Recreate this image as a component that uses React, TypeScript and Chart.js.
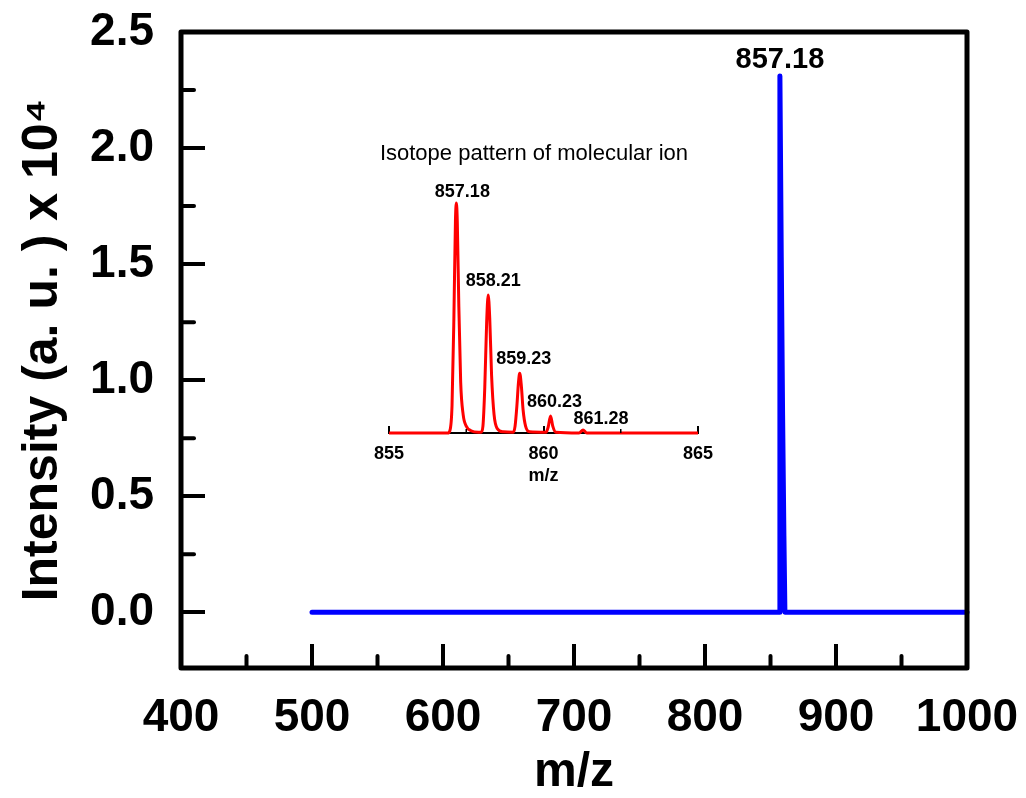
import React, { useEffect, useRef } from 'react';
import { Chart, registerables } from 'chart.js';

Chart.register(...registerables);

// ---------- Main spectrum data ----------
const mainMz = [500, 856.9, 857.18, 858.21, 859.23, 860.23, 861.0, 1000];
const mainIntensity = [0, 0, 2.31, 1.53, 0.85, 0.33, 0, 0];
const mainPeakMz = 857.18;
const mainPeakLabel = '857.18';
const mainXTicks = [400, 500, 600, 700, 800, 900, 1000];
const mainXMinor = [450, 550, 650, 750, 850, 950];
const mainYTicks = [0, 0.5, 1.0, 1.5, 2.0, 2.5];
const mainYMinor = [0.25, 0.75, 1.25, 1.75, 2.25];

// ---------- Inset (isotope pattern) data ----------
const insetMz = [
  855.0, 856.9, 856.97, 857.04, 857.1, 857.15, 857.18, 857.21, 857.26, 857.32, 857.4, 857.5, 857.65, 857.9,
  857.98, 858.04, 858.1, 858.16, 858.21, 858.26, 858.32, 858.4, 858.5, 858.7,
  859.02, 859.08, 859.14, 859.19, 859.23, 859.28, 859.34, 859.42, 859.55,
  860.08, 860.15, 860.23, 860.3, 860.4,
  861.15, 861.28, 861.4, 865.0,
];
const insetIntensity = [
  0, 0, 1, 12, 50, 92, 100, 92, 55, 22, 8, 3, 1, 0.3,
  0.3, 3, 20, 48, 60, 50, 25, 8, 2, 0.5,
  0.3, 3, 12, 22, 26, 21, 10, 3, 0.5,
  0.3, 2.5, 7.4, 3, 0.3,
  0, 1.3, 0, 0,
];
const insetPeakMz = [857.18, 858.21, 859.23, 860.23, 861.28];
const insetPeakLabels = ['857.18', '858.21', '859.23', '860.23', '861.28'];
const insetXTicks = [855, 860, 865];
const insetXMinor = [857.5, 862.5];
const insetTitle = 'Isotope pattern of molecular ion';

// style constants
const FONT = "'Liberation Sans', Arial, Helvetica, sans-serif";
const insetLabelDx = [6, 5, 4, 4, 18];

export default function App() {
  const mainRef = useRef<HTMLCanvasElement | null>(null);
  const insetRef = useRef<HTMLCanvasElement | null>(null);

  useEffect(() => {
    const mainFrame = {
      id: 'mainFrame',
      afterDraw(chart: any) {
        const ctx = chart.ctx;
        const { left, right, top, bottom } = chart.chartArea;
        const xs = chart.scales.x;
        const ys = chart.scales.y;
        ctx.save();
        ctx.strokeStyle = '#000';
        ctx.lineCap = 'round';
        ctx.lineWidth = 4;
        // minor ticks
        mainXMinor.forEach((v) => {
          const px = xs.getPixelForValue(v);
          ctx.beginPath();
          ctx.moveTo(px, bottom);
          ctx.lineTo(px, bottom - 12);
          ctx.stroke();
        });
        mainYMinor.forEach((v) => {
          const py = ys.getPixelForValue(v);
          ctx.beginPath();
          ctx.moveTo(left, py);
          ctx.lineTo(left + 13, py);
          ctx.stroke();
        });
        // frame
        ctx.lineWidth = 5;
        ctx.lineJoin = 'round';
        ctx.strokeRect(left, top, right - left, bottom - top);
        // peak label
        const idx = mainMz.indexOf(mainPeakMz);
        const px = xs.getPixelForValue(mainPeakMz);
        const py = ys.getPixelForValue(mainIntensity[idx]);
        ctx.fillStyle = '#000';
        ctx.font = `bold 29px ${FONT}`;
        ctx.textAlign = 'center';
        ctx.textBaseline = 'alphabetic';
        ctx.fillText(mainPeakLabel, px, py - 8.5);
        ctx.restore();
      },
    };

    const main = new Chart(mainRef.current as HTMLCanvasElement, {
      type: 'line',
      data: {
        datasets: [
          {
            data: mainMz.map((x, i) => ({ x, y: mainIntensity[i] })),
            borderColor: '#0000FF',
            borderWidth: 5,
            pointRadius: 0,
            borderJoinStyle: 'round',
            borderCapStyle: 'round',
            tension: 0,
            clip: false,
          } as any,
        ],
      },
      options: {
        responsive: false,
        animation: false,
        layout: { autoPadding: false, padding: { top: 32, right: 59, left: 0, bottom: 0 } },
        plugins: { legend: { display: false }, tooltip: { enabled: false } },
        scales: {
          x: {
            type: 'linear',
            min: 400,
            max: 1000,
            afterBuildTicks: (s: any) => {
              s.ticks = mainXTicks.map((v) => ({ value: v }));
            },
            afterFit: (s: any) => {
              s.height = 130;
              s.paddingLeft = 0;
              s.paddingRight = 0;
            },
            ticks: {
              autoSkip: false,
              maxRotation: 0,
              color: '#000',
              padding: 47,
              font: { family: FONT, size: 46, weight: 'bold', lineHeight: 1.2 },
              callback: (v: any) => String(v),
            },
            grid: { drawOnChartArea: false, drawTicks: true, tickLength: -24, lineWidth: 4, color: '#000' },
            border: { display: false },
            title: {
              display: true,
              text: 'm/z',
              color: '#000',
              font: { family: FONT, size: 48, weight: 'bold', lineHeight: 1 },
              padding: { top: 0, bottom: 1 },
            },
          },
          y: {
            type: 'linear',
            min: -0.24,
            max: 2.5,
            afterBuildTicks: (s: any) => {
              s.ticks = mainYTicks.map((v) => ({ value: v }));
            },
            afterFit: (s: any) => {
              s.width = 181;
              s.paddingTop = 0;
              s.paddingBottom = 0;
            },
            ticks: {
              autoSkip: false,
              color: '#000',
              padding: 51,
              font: { family: FONT, size: 46, weight: 'bold', lineHeight: 1.2 },
              callback: (v: any) => Number(v).toFixed(1),
            },
            grid: { drawOnChartArea: false, drawTicks: true, tickLength: -24, lineWidth: 4, color: '#000' },
            border: { display: false },
            title: {
              display: true,
              text: 'Intensity (a. u. ) x 10⁴',
              color: '#000',
              font: { family: FONT, size: 50, weight: 'bold', lineHeight: 1 },
              padding: { top: 18, bottom: 0 },
            },
          },
        },
      } as any,
      plugins: [mainFrame],
    });

    const insetDeco = {
      id: 'insetDeco',
      afterDraw(chart: any) {
        const ctx = chart.ctx;
        const { left, right, bottom } = chart.chartArea;
        const xs = chart.scales.x;
        const ys = chart.scales.y;
        ctx.save();
        ctx.strokeStyle = '#000';
        ctx.lineWidth = 1.5;
        insetXMinor.forEach((v) => {
          const px = xs.getPixelForValue(v);
          ctx.beginPath();
          ctx.moveTo(px, bottom);
          ctx.lineTo(px, bottom - 4);
          ctx.stroke();
        });
        ctx.fillStyle = '#000';
        ctx.textAlign = 'center';
        ctx.textBaseline = 'middle';
        ctx.font = `22px ${FONT}`;
        ctx.fillText(insetTitle, (left + right) / 2 - 9.5, 24);
        ctx.font = `bold 18px ${FONT}`;
        insetPeakMz.forEach((mz, i) => {
          const j = insetMz.indexOf(mz);
          const px = xs.getPixelForValue(mz);
          const py = ys.getPixelForValue(insetIntensity[j]);
          ctx.fillText(insetPeakLabels[i], px + insetLabelDx[i], py - (i === 0 || i === 4 ? 11 : 14));
        });
        ctx.restore();
      },
    };

    const inset = new Chart(insetRef.current as HTMLCanvasElement, {
      type: 'line',
      data: {
        datasets: [
          {
            data: insetMz.map((x, i) => ({ x, y: insetIntensity[i] })),
            borderColor: '#FF0000',
            borderWidth: 3,
            pointRadius: 0,
            cubicInterpolationMode: 'monotone',
            clip: false,
          } as any,
        ],
      },
      options: {
        responsive: false,
        animation: false,
        layout: { autoPadding: false, padding: { top: 50, right: 32, left: 29, bottom: 0 } },
        plugins: { legend: { display: false }, tooltip: { enabled: false } },
        scales: {
          x: {
            type: 'linear',
            min: 855,
            max: 865,
            afterBuildTicks: (s: any) => {
              s.ticks = insetXTicks.map((v) => ({ value: v }));
            },
            afterFit: (s: any) => {
              s.height = 67;
              s.paddingLeft = 0;
              s.paddingRight = 0;
            },
            ticks: {
              autoSkip: false,
              maxRotation: 0,
              color: '#000',
              padding: 17,
              font: { family: FONT, size: 18, weight: 'bold', lineHeight: 1.2 },
              callback: (v: any) => String(v),
            },
            grid: { drawOnChartArea: false, drawTicks: true, tickLength: -7, lineWidth: 2, color: '#000' },
            border: { display: true, color: '#000', width: 2 },
            title: {
              display: true,
              text: 'm/z',
              color: '#000',
              font: { family: FONT, size: 18, weight: 'bold', lineHeight: 1 },
              padding: { top: 0, bottom: 15 },
            },
          },
          y: {
            type: 'linear',
            display: false,
            min: 0,
            max: 110,
          },
        },
      } as any,
      plugins: [insetDeco],
    });

    return () => {
      main.destroy();
      inset.destroy();
    };
  }, []);

  return (
    <div style={{ position: 'fixed', left: 0, top: 0, width: 1026, height: 798, background: '#fff' }}>
      <canvas ref={mainRef} width={1026} height={798} style={{ position: 'absolute', left: 0, top: 0 }} />
      <canvas ref={insetRef} width={370} height={370} style={{ position: 'absolute', left: 360, top: 130 }} />
    </div>
  );
}
